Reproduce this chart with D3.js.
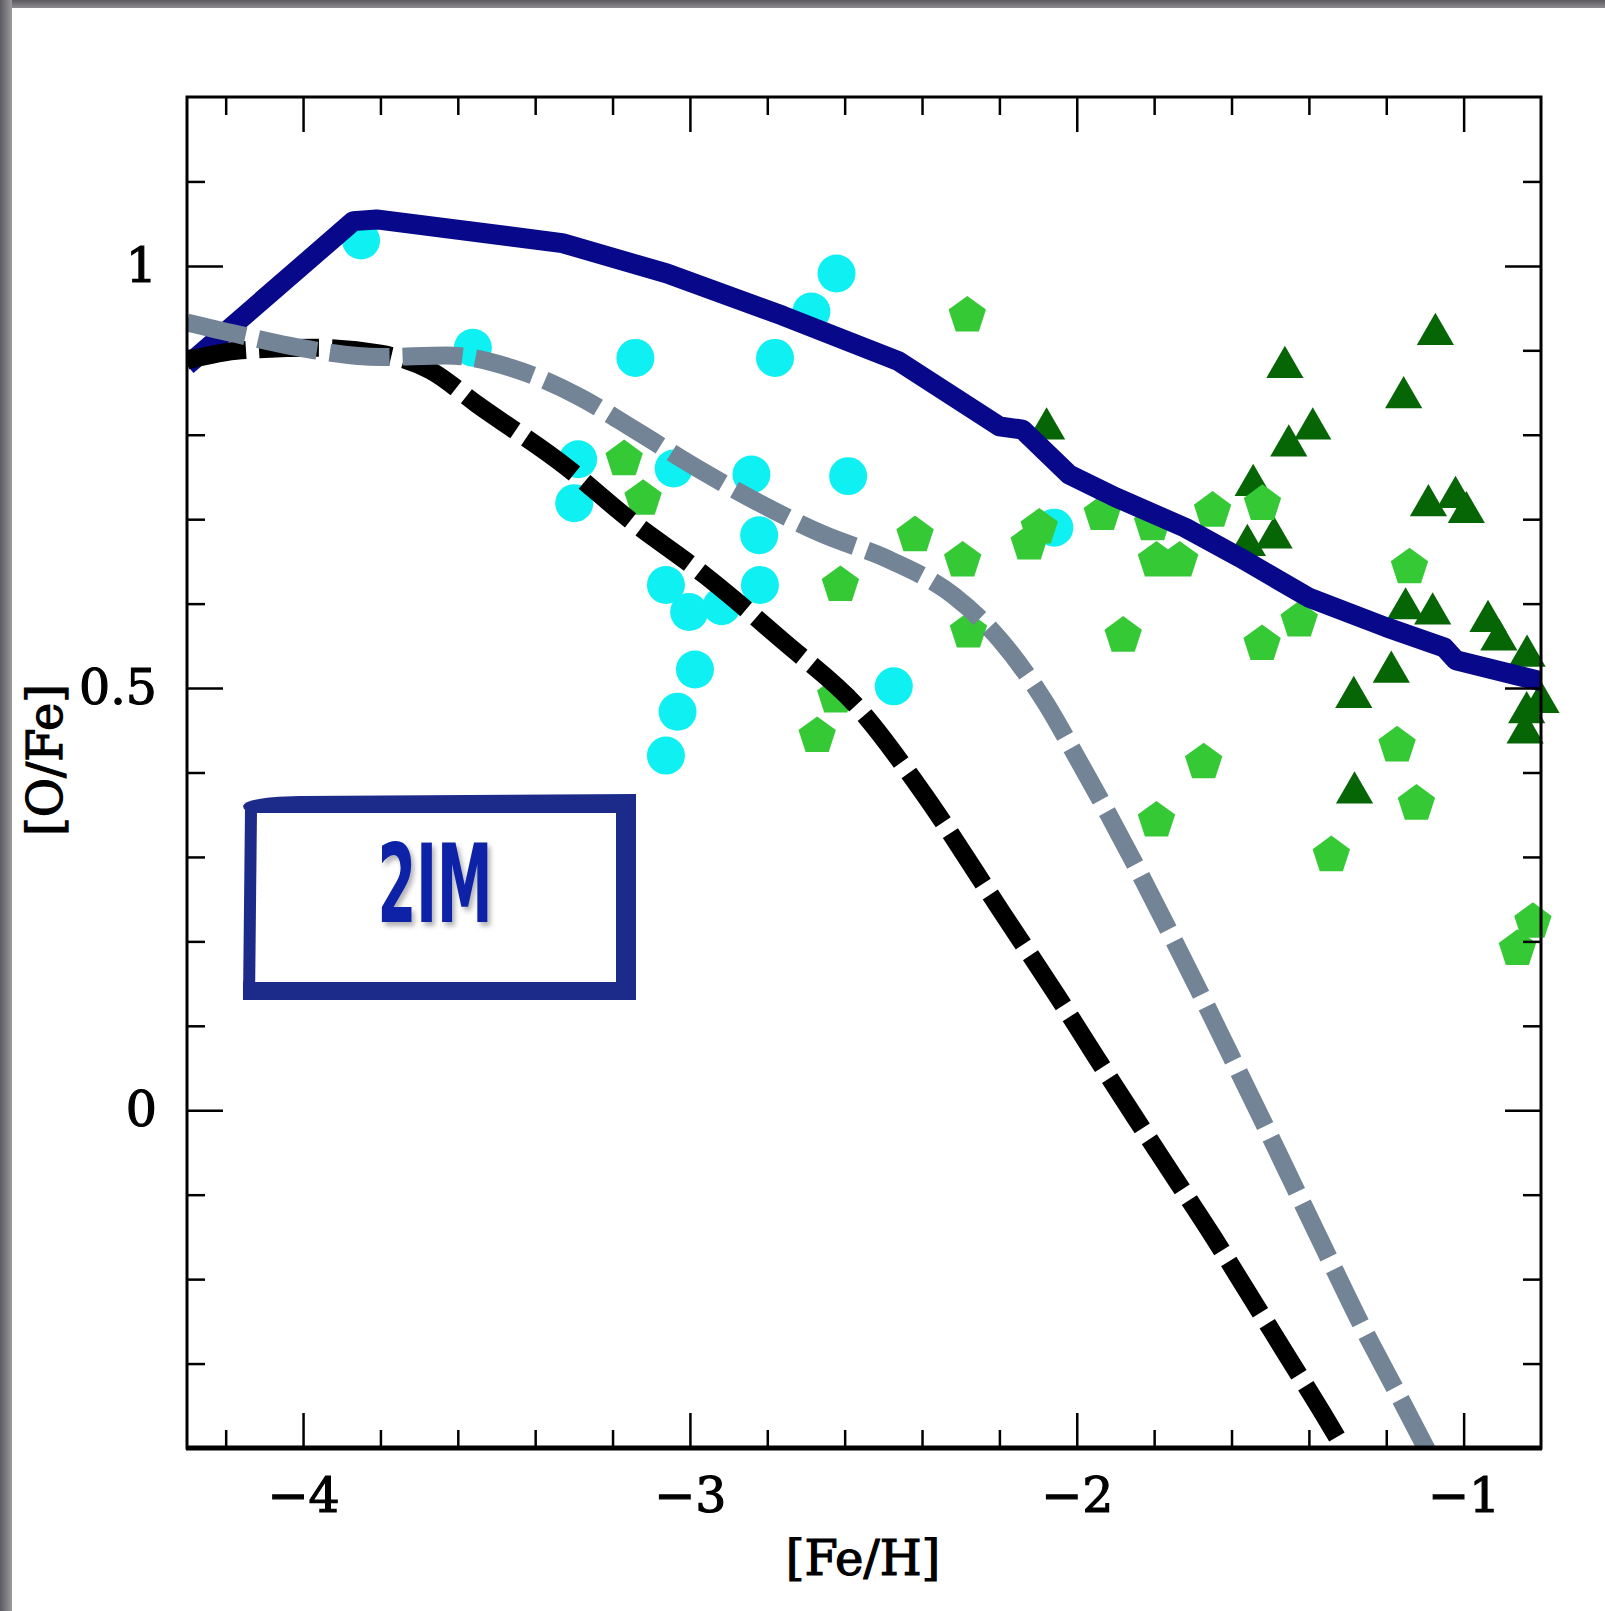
<!DOCTYPE html>
<html>
<head>
<meta charset="utf-8">
<script src="https://cdn.jsdelivr.net/npm/d3@7"></script>
<style>
  body { margin: 0; background: #fff; }
  svg { display: block; }
  .tick text { font-family: "DejaVu Serif", serif; font-size: 49px; fill: #000; stroke: #000; stroke-width: 1.2px; }
  .axis-label { font-family: "DejaVu Serif", serif; font-size: 48px; fill: #000; stroke: #000; stroke-width: 1.2px; }
</style>
</head>
<body>
<div id="chart"></div>
<script>
// Axis ticks
const xMajorTicks = [-4, -3, -2, -1];
const xTickLabels = ['\u22124', '\u22123', '\u22122', '\u22121'];
const xMinorTicks = [-4.2, -3.8, -3.6, -3.4, -3.2, -2.8, -2.6, -2.4, -2.2, -1.8, -1.6, -1.4, -1.2];
const yMajorTicks = [0, 0.5, 1];
const yTickLabels = ['0', '0.5', '1'];
const yMinorTicks = [1.1, 0.9, 0.8, 0.7, 0.6, 0.4, 0.3, 0.2, 0.1, -0.1, -0.2, -0.3];

// Model curves, [Fe/H] vs [O/Fe]
const solidModel = [
  [-4.30, 0.882], [-3.87, 1.053], [-3.81, 1.055], [-3.33, 1.027], [-3.06, 0.991],
  [-2.76, 0.941], [-2.46, 0.887], [-2.20, 0.810], [-2.14, 0.806], [-2.02, 0.753],
  [-1.90, 0.726], [-1.72, 0.690], [-1.58, 0.655], [-1.40, 0.607], [-1.20, 0.572],
  [-1.05, 0.548], [-1.02, 0.533], [-0.80, 0.508]
];
const blackModel = [
  [-4.30, 0.888], [-4.16, 0.900], [-3.97, 0.903], [-3.80, 0.896], [-3.67, 0.876],
  [-3.55, 0.836], [-3.32, 0.762], [-3.16, 0.701], [-2.96, 0.633], [-2.76, 0.556],
  [-2.56, 0.474], [-2.41, 0.384], [-2.19, 0.232], [-2.05, 0.135], [-1.95, 0.063],
  [-1.85, -0.008], [-1.75, -0.078], [-1.65, -0.148], [-1.56, -0.214], [-1.46, -0.288],
  [-1.36, -0.362], [-1.316, -0.396]
];
const grayModel = [
  [-4.30, 0.933], [-4.17, 0.919], [-3.97, 0.900], [-3.80, 0.892], [-3.63, 0.894],
  [-3.46, 0.879], [-3.29, 0.846], [-3.14, 0.805], [-2.98, 0.760], [-2.82, 0.719],
  [-2.66, 0.683], [-2.48, 0.651], [-2.32, 0.610], [-2.20, 0.558], [-2.08, 0.482],
  [-2.00, 0.418], [-1.92, 0.352], [-1.84, 0.283], [-1.76, 0.211], [-1.68, 0.138],
  [-1.60, 0.063], [-1.52, -0.012], [-1.44, -0.088], [-1.36, -0.164], [-1.27, -0.249],
  [-1.17, -0.336], [-1.094, -0.403]
];

// Observed stars
const cyanStars = [
  [-3.85, 1.030], [-2.621, 0.991], [-2.686, 0.946], [-3.561, 0.903], [-3.141, 0.891],
  [-2.780, 0.891], [-3.289, 0.771], [-3.042, 0.760], [-2.841, 0.753], [-2.591, 0.751],
  [-3.299, 0.719], [-2.821, 0.681], [-3.062, 0.622], [-2.819, 0.622], [-3.002, 0.590],
  [-2.918, 0.597], [-2.987, 0.522], [-3.032, 0.472], [-3.062, 0.420], [-2.473, 0.502],
  [-2.058, 0.690]
];
const limeStars = [
  [-2.283, 0.941], [-3.170, 0.771], [-3.121, 0.724], [-2.418, 0.681], [-2.295, 0.651],
  [-2.611, 0.622], [-2.280, 0.567], [-2.623, 0.490], [-2.671, 0.443], [-1.934, 0.706],
  [-2.097, 0.690], [-2.123, 0.671], [-1.804, 0.694], [-1.649, 0.710], [-1.520, 0.718],
  [-1.794, 0.651], [-1.734, 0.651], [-1.140, 0.643], [-1.425, 0.580], [-1.880, 0.562],
  [-1.521, 0.552], [-1.672, 0.412], [-1.794, 0.343], [-1.172, 0.432], [-1.122, 0.363],
  [-1.342, 0.302], [-0.821, 0.223], [-0.861, 0.191]
];
const darkStars = [
  [-1.073, 0.925], [-1.462, 0.886], [-1.155, 0.850], [-1.390, 0.813], [-1.452, 0.793],
  [-2.078, 0.813], [-1.544, 0.746], [-1.091, 0.722], [-1.021, 0.732], [-0.993, 0.714],
  [-1.490, 0.684], [-1.559, 0.675], [-1.150, 0.600], [-1.080, 0.594], [-0.937, 0.585],
  [-0.909, 0.563], [-0.836, 0.544], [-1.187, 0.525], [-1.284, 0.495], [-1.282, 0.382],
  [-0.800, 0.489], [-0.837, 0.477], [-0.841, 0.453]
];

const W = 1605, H = 1611;
const plot = { left: 187, right: 1541, top: 97, bottom: 1448 };

const svg = d3.select('#chart').append('svg')
  .attr('width', W)
  .attr('height', H);

const defs = svg.append('defs');

// Grey slide border on the top and left
const gradLeft = defs.append('linearGradient').attr('id', 'edgeLeft');
gradLeft.append('stop').attr('offset', '0%').attr('stop-color', '#5c5a5f');
gradLeft.append('stop').attr('offset', '100%').attr('stop-color', '#9b9a9e');
const gradTop = defs.append('linearGradient').attr('id', 'edgeTop')
  .attr('x1', 0).attr('y1', 0).attr('x2', 0).attr('y2', 1);
gradTop.append('stop').attr('offset', '0%').attr('stop-color', '#5c5a5f');
gradTop.append('stop').attr('offset', '100%').attr('stop-color', '#8d8c90');

defs.append('clipPath').attr('id', 'plotClip')
  .append('rect')
  .attr('x', plot.left).attr('y', plot.top)
  .attr('width', plot.right - plot.left).attr('height', plot.bottom - plot.top);

defs.append('filter').attr('id', 'shadow')
  .attr('x', '-20%').attr('y', '-20%').attr('width', '140%').attr('height', '140%')
  .append('feDropShadow')
  .attr('dx', 3).attr('dy', 4).attr('stdDeviation', 2.5)
  .attr('flood-color', '#000').attr('flood-opacity', 0.3);

svg.append('rect').attr('width', W).attr('height', H).attr('fill', '#fff');
svg.append('rect').attr('x', 0).attr('y', 0).attr('width', W).attr('height', 8).attr('fill', 'url(#edgeTop)');
svg.append('rect').attr('x', 0).attr('y', 0).attr('width', 12).attr('height', H).attr('fill', 'url(#edgeLeft)');

// Scales
const x = d3.scaleLinear().domain([-4.3, -0.8]).range([plot.left, plot.right]);
const y = d3.scaleLinear().domain([-0.4, 1.2]).range([plot.bottom, plot.top]);

// Pentagon marker
const pentagon = {
  draw(context, size) {
    const r = Math.sqrt(size / 2.3776);
    for (let i = 0; i < 5; i++) {
      const a = -Math.PI / 2 + i * 2 * Math.PI / 5;
      if (i === 0) context.moveTo(r * Math.cos(a), r * Math.sin(a));
      else context.lineTo(r * Math.cos(a), r * Math.sin(a));
    }
    context.closePath();
  }
};

// Stars
svg.append('g').selectAll('path')
  .data(cyanStars)
  .enter().append('path')
  .attr('d', d3.symbol().type(d3.symbolCircle).size(1134))
  .attr('transform', d => `translate(${x(d[0])},${y(d[1])})`)
  .attr('fill', '#0ff0f2');

svg.append('g').selectAll('path')
  .data(darkStars)
  .enter().append('path')
  .attr('d', d3.symbol().type(d3.symbolTriangle).size(600))
  .attr('transform', d => `translate(${x(d[0])},${y(d[1]) + 5})`)
  .attr('fill', '#066606');

svg.append('g').selectAll('path')
  .data(limeStars)
  .enter().append('path')
  .attr('d', d3.symbol().type(pentagon).size(920))
  .attr('transform', d => `translate(${x(d[0])},${y(d[1])})`)
  .attr('fill', '#36c936');

// Model curves
const line = d3.line().x(d => x(d[0])).y(d => y(d[1]));
const smoothLine = d3.line().curve(d3.curveMonotoneX).x(d => x(d[0])).y(d => y(d[1]));
const curves = svg.append('g').attr('clip-path', 'url(#plotClip)');

curves.append('path')
  .datum(solidModel)
  .attr('d', line)
  .attr('fill', 'none')
  .attr('stroke', '#08088a')
  .attr('stroke-width', 20)
  .attr('stroke-linejoin', 'round');

curves.append('path')
  .datum(blackModel)
  .attr('d', smoothLine)
  .attr('fill', 'none')
  .attr('stroke', '#000')
  .attr('stroke-width', 18)
  .attr('stroke-dasharray', '60,13');

curves.append('path')
  .datum(grayModel)
  .attr('d', smoothLine)
  .attr('fill', 'none')
  .attr('stroke', '#738496')
  .attr('stroke-width', 18)
  .attr('stroke-dasharray', '60,13');

// Axes (ticks point inward on all four sides)
function styleAxis(g) {
  g.select('.domain').remove();
  g.selectAll('.tick line').attr('stroke', '#000').attr('stroke-width', 2.5);
}

svg.append('g')
  .attr('transform', `translate(0,${plot.bottom})`)
  .call(d3.axisBottom(x).tickValues(xMajorTicks).tickSize(-35).tickPadding(29)
    .tickFormat((d, i) => xTickLabels[i]))
  .call(styleAxis);
svg.append('g')
  .attr('transform', `translate(0,${plot.bottom})`)
  .call(d3.axisBottom(x).tickValues(xMinorTicks).tickSize(-18).tickFormat(''))
  .call(styleAxis);
svg.append('g')
  .attr('transform', `translate(0,${plot.top})`)
  .call(d3.axisTop(x).tickValues(xMajorTicks).tickSize(-35).tickFormat(''))
  .call(styleAxis);
svg.append('g')
  .attr('transform', `translate(0,${plot.top})`)
  .call(d3.axisTop(x).tickValues(xMinorTicks).tickSize(-18).tickFormat(''))
  .call(styleAxis);

svg.append('g')
  .attr('transform', `translate(${plot.left},0)`)
  .call(d3.axisLeft(y).tickValues(yMajorTicks).tickSize(-36).tickPadding(30)
    .tickFormat((d, i) => yTickLabels[i]))
  .call(styleAxis);
svg.append('g')
  .attr('transform', `translate(${plot.left},0)`)
  .call(d3.axisLeft(y).tickValues(yMinorTicks).tickSize(-18).tickFormat(''))
  .call(styleAxis);
svg.append('g')
  .attr('transform', `translate(${plot.right},0)`)
  .call(d3.axisRight(y).tickValues(yMajorTicks).tickSize(-36).tickFormat(''))
  .call(styleAxis);
svg.append('g')
  .attr('transform', `translate(${plot.right},0)`)
  .call(d3.axisRight(y).tickValues(yMinorTicks).tickSize(-18).tickFormat(''))
  .call(styleAxis);

// Frame
svg.append('rect')
  .attr('x', plot.left).attr('y', plot.top)
  .attr('width', plot.right - plot.left).attr('height', plot.bottom - plot.top)
  .attr('fill', 'none')
  .attr('stroke', '#000')
  .attr('stroke-width', 3);
svg.append('line')
  .attr('x1', plot.left - 1).attr('x2', plot.right + 1)
  .attr('y1', plot.bottom).attr('y2', plot.bottom)
  .attr('stroke', '#000')
  .attr('stroke-width', 5);

// Axis labels
svg.append('text')
  .attr('class', 'axis-label')
  .attr('text-anchor', 'middle')
  .attr('x', 863)
  .attr('y', 1575)
  .text('[Fe/H]');

svg.append('text')
  .attr('class', 'axis-label')
  .attr('text-anchor', 'middle')
  .attr('transform', 'translate(62,760) rotate(-90)')
  .text('[O/Fe]');

// Hand-drawn "2IM" box
const boxColor = '#1c2a8a';
const box = svg.append('g');
box.append('path')
  .attr('d', 'M243,806 Q246,797 300,796 L636,794 L636,813 L258,813 Q243,812 243,806 Z')
  .attr('fill', boxColor);
box.append('line')
  .attr('x1', 626).attr('x2', 626).attr('y1', 796).attr('y2', 1000)
  .attr('stroke', boxColor).attr('stroke-width', 20);
box.append('line')
  .attr('x1', 243).attr('x2', 636).attr('y1', 991).attr('y2', 991)
  .attr('stroke', boxColor).attr('stroke-width', 18);
box.append('line')
  .attr('x1', 251).attr('x2', 249).attr('y1', 810).attr('y2', 1000)
  .attr('stroke', boxColor).attr('stroke-width', 12);

svg.append('text')
  .attr('x', 435)
  .attr('y', 922)
  .attr('text-anchor', 'middle')
  .attr('textLength', 115)
  .attr('lengthAdjust', 'spacingAndGlyphs')
  .attr('font-family', '"DejaVu Sans Condensed", "DejaVu Sans", sans-serif')
  .attr('font-weight', 'bold')
  .attr('font-size', 108)
  .attr('fill', '#0a20a6')
  .attr('filter', 'url(#shadow)')
  .text('2IM');
</script>
</body>
</html>
